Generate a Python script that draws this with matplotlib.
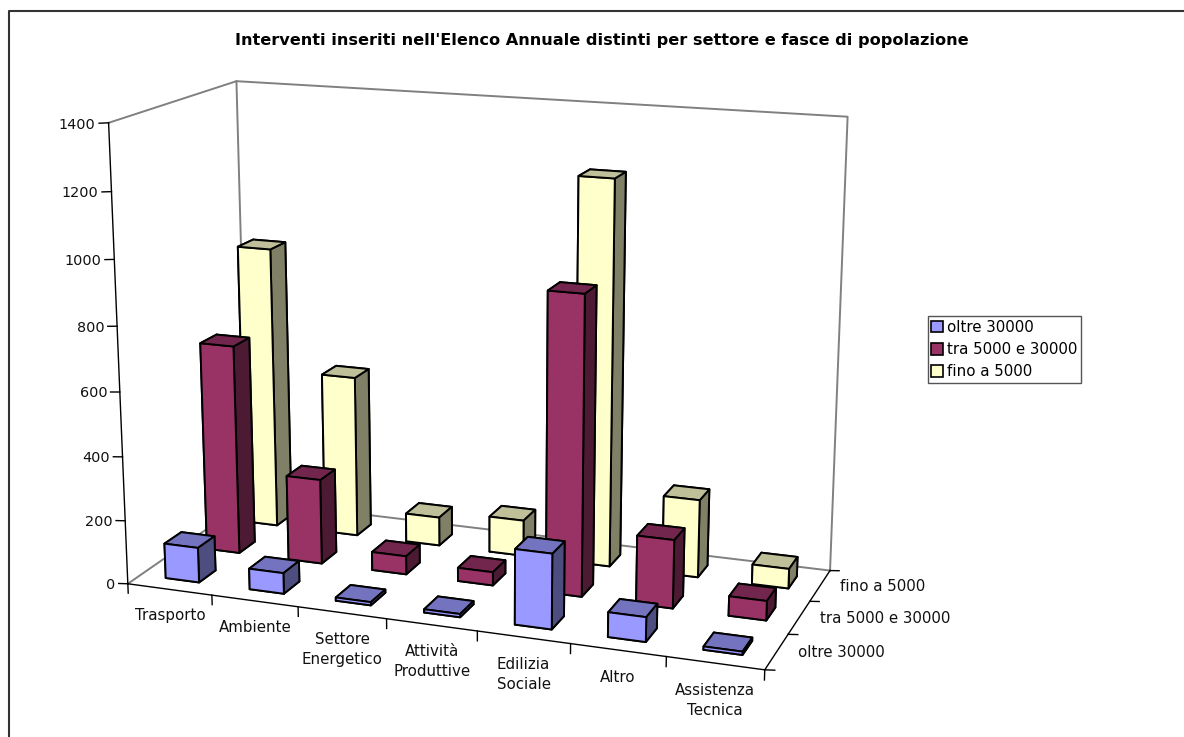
import numpy as np
from matplotlib import pyplot as plt
from matplotlib.lines import Line2D
from matplotlib.patches import Patch

W, H = 1184, 737

categorie = ["Trasporto", "Ambiente", "Settore\nEnergetico", "Attività\nProduttive",
             "Edilizia\nSociale", "Altro", "Assistenza\nTecnica"]
fasce = ["oltre 30000", "tra 5000 e 30000", "fino a 5000"]
oltre_30000 = [110, 65, 10, 10, 230, 75, 10]
tra_5000_30000 = [666, 270, 58, 42, 925, 212, 60]
fino_5000 = [910, 520, 92, 115, 1210, 246, 62]
valori = [oltre_30000, tra_5000_30000, fino_5000]
tick_valori = [0, 200, 400, 600, 800, 1000, 1200, 1400]

# colori: fronte, sopra, lato
colori = [("#9999FF", "#7373BF", "#4D4D80"),
          ("#993366", "#73264D", "#4D1A33"),
          ("#FFFFCC", "#BFBF99", "#808066")]

ZMAX = tick_valori[-1]
NX, NY = len(categorie), len(fasce)

# angoli del box misurati sul riferimento: (x, y, z) -> pixel
angoli = [((0, 0, 0), (127.5, 584)), ((NX, 0, 0), (764.7, 669.7)),
          ((NX, NY, 0), (830, 570.7)), ((0, NY, 0), (248.4, 500.3)),
          ((0, 0, ZMAX), (109, 122.7)), ((0, NY, ZMAX), (236, 81.3)),
          ((NX, NY, ZMAX), (847.7, 116.7))]


def camera(punti):
    # matrice di proiezione 3x4 dalle corrispondenze
    A = []
    for (x, y, z), (u, v) in punti:
        A.append([x, y, z, 1, 0, 0, 0, 0, -u * x, -u * y, -u * z, -u])
        A.append([0, 0, 0, 0, x, y, z, 1, -v * x, -v * y, -v * z, -v])
    P = np.linalg.svd(np.array(A, dtype=float))[2][-1].reshape(3, 4)
    if P[2, 3] < 0:
        P = -P
    return np.array([P[0], P[1], [0, 0, 0, -1], P[2]])


M = camera(angoli)

fig = plt.figure(figsize=(W / 100, H / 100), dpi=100)
ax = fig.add_axes([0, 0, 1, 1], projection="3d")
ax.set_proj_type("ortho")  # evita il clipping delle linee, la proiezione vera e' M
ax.apply_aspect = lambda *a, **k: ax._set_position(ax.get_position(original=True), "active")
ax.get_proj = lambda: M
ax.viewLim.intervalx = (0, W)
ax.viewLim.intervaly = (H, 0)
ax.set_axis_off()
ax.computed_zorder = False

GRIGIO = "#808080"
TESTO = "#111111"
# pareti
ax.plot([0, 0, NX, NX], [0, NY, NY, NY], [ZMAX, ZMAX, ZMAX, 0], color=GRIGIO, lw=1.4, zorder=1)
ax.plot([0, 0], [NY, NY], [ZMAX, 0], color=GRIGIO, lw=1.4, zorder=1)
ax.plot([0, 0, NX], [0, NY, NY], [0, 0, 0], color=GRIGIO, lw=1.4, zorder=1)

# assi
ax.plot([0, 0], [0, 0], [0, ZMAX], color="black", lw=1, zorder=2)
ax.plot([0, NX, NX], [0, 0, NY], [0, 0, 0], color="black", lw=1, zorder=2)
for v in tick_valori:
    ax.plot([-0.11, 0], [0, 0], [v - 3, v], color="black", lw=1, zorder=2)
    ax.text(-0.15, 0, v - 8, str(v), ha="right", va="center", fontsize=10.4, color=TESTO)
for i in range(NX + 1):
    ax.plot([i, i], [0, 0], [0, -30], color="black", lw=1, zorder=2)
for i, c in enumerate(categorie):
    ax.text(i + 0.5, 0, -60, c, ha="center", va="top", fontsize=10.8, color=TESTO, linespacing=1.4)
for j in range(NY + 1):
    ax.plot([NX, NX + 0.1], [j, j], [0, 3], color="black", lw=1, zorder=2)
for j, f in enumerate(fasce):
    ax.text(NX + 0.215, j + 0.5, 6, f, ha="left", va="center", fontsize=10.8, color=TESTO)

# barre: dal fondo verso il davanti, da sinistra a destra
LARGHEZZA = 0.4
z_bar = 10
for j in range(NY - 1, -1, -1):
    fronte, sopra, lato = colori[j]
    # ordine facce bar3d: -z, +z, -y, +y, -x, +x
    facce = [lato, sopra, fronte, fronte, lato, lato]
    for i in range(NX):
        ax.bar3d(i + 0.3, j + 0.3, 0, LARGHEZZA, LARGHEZZA, valori[j][i], color=facce,
                 shade=False, edgecolor="black", linewidth=1.4, zorder=z_bar)
        z_bar += 1

# bordo del foglio: solo sopra e a sinistra
fig.add_artist(Line2D([8.5 / W, 8.5 / W, 1], [0, 1 - 11 / H, 1 - 11 / H], transform=fig.transFigure,
                      color="#333333", lw=1.5))

fig.text(602 / W, 1 - 40 / H, "Interventi inseriti nell'Elenco Annuale distinti per settore e fasce di popolazione",
         ha="center", va="center", fontsize=11.65, fontweight="bold", color="black")

maniglie = [Patch(facecolor=colori[j][0], edgecolor="black", lw=1.2, label=fasce[j]) for j in range(NY)]
fig.legend(handles=maniglie, loc="center", bbox_to_anchor=(1004.5 / W, 1 - 349.5 / H), fontsize=10.8,
           frameon=True, fancybox=False, framealpha=1, edgecolor="#555555", borderpad=0.25,
           handlelength=0.8, handleheight=0.8, handletextpad=0.25, labelspacing=0.48, borderaxespad=0)

fig.savefig("out.png", dpi=100)
